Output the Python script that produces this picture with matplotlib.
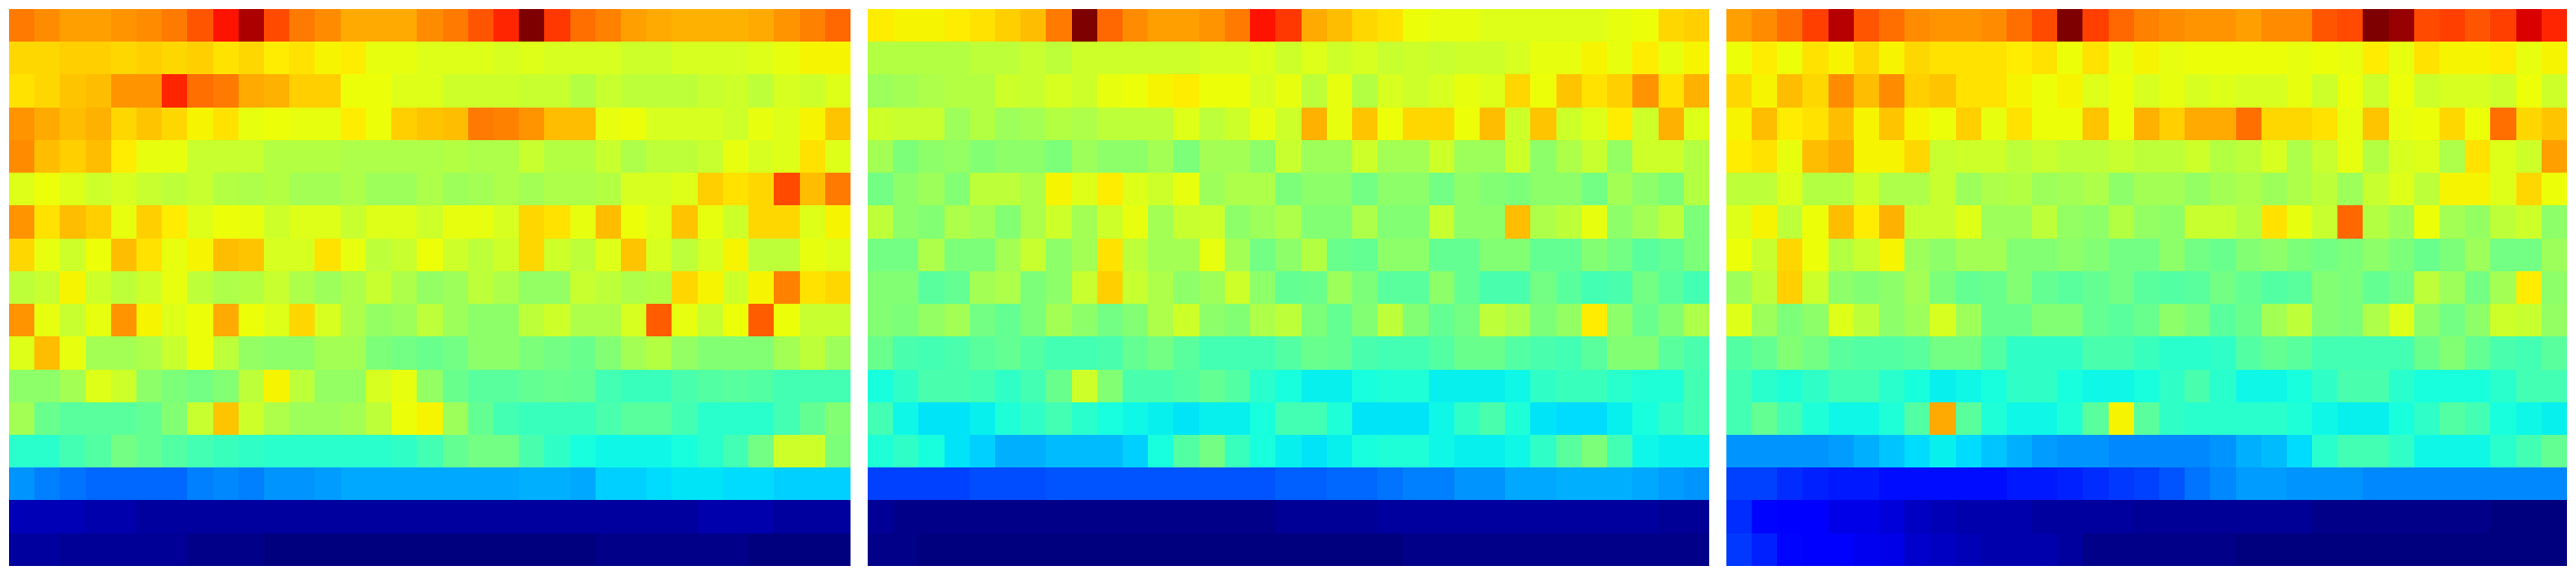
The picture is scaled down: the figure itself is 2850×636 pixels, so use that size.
#!/usr/bin/env python3

import numpy as np
import matplotlib
matplotlib.use("Agg")
import matplotlib.pyplot as plt

# values, 17 rows x 33 columns, scale 0-100
panel_a = [
    [78,76,74,74,75,76,78,82,89,96,83,78,76,73,73,73,76,78,82,87,100,85,79,77,74,73,72,72,72,73,75,77,80],
    [68,68,69,69,68,69,68,69,67,68,66,67,65,66,63,63,62,62,62,61,62,61,61,61,60,60,61,61,61,62,63,65,65],
    [67,68,70,71,75,75,87,79,78,73,72,69,69,64,64,62,62,60,60,60,59,59,57,59,58,58,58,59,60,58,61,60,62],
    [75,73,71,72,68,70,68,65,67,63,64,63,63,66,64,69,70,71,78,77,75,71,71,63,64,61,61,61,60,63,62,65,70],
    [76,71,69,71,66,63,63,59,59,59,57,57,57,56,56,56,56,57,56,56,59,57,57,59,56,58,58,59,63,61,62,67,62],
    [62,64,62,60,61,59,58,59,57,56,57,55,55,56,54,54,56,54,55,56,55,56,56,57,61,61,62,69,67,68,83,71,78],
    [75,67,71,69,63,69,66,62,64,63,60,62,62,59,62,62,60,63,63,61,68,67,63,71,64,62,70,63,60,68,68,62,65],
    [68,63,60,64,71,67,63,65,71,70,61,61,67,63,58,59,64,60,58,60,68,60,58,62,70,61,58,61,65,58,58,63,62],
    [58,59,65,60,58,60,63,58,56,57,59,56,54,56,59,56,53,54,58,56,53,53,59,58,56,57,68,65,60,65,77,67,68],
    [75,63,59,63,75,65,62,64,73,64,62,68,61,56,53,54,58,54,52,52,58,60,56,56,61,81,63,59,64,81,64,59,59],
    [62,71,63,55,55,56,59,64,58,53,52,52,55,55,50,49,48,49,52,52,50,49,48,51,55,57,53,51,51,51,55,58,54],
    [52,52,55,62,60,52,50,49,51,58,65,58,53,53,61,63,53,48,46,46,47,48,47,43,42,42,44,45,46,45,43,43,43],
    [55,48,46,46,46,47,51,59,70,60,56,54,54,55,58,64,65,54,47,43,42,42,42,44,46,46,43,40,40,40,43,47,51],
    [40,40,43,45,49,47,45,43,42,41,40,40,40,40,40,41,43,47,49,49,44,41,38,37,37,37,38,40,43,49,60,60,50],
    [27,25,24,23,23,23,23,25,26,25,27,27,28,29,29,29,29,29,29,29,30,30,29,33,33,34,35,35,34,34,33,33,33],
    [5,5,5,4,4,3,3,3,3,3,3,3,3,3,3,3,3,3,3,3,3,3,3,3,3,3,3,4,4,4,3,3,3],
    [3,3,2,2,2,2,2,1,1,1,0,0,0,0,0,0,0,0,0,0,0,0,0,1,1,1,1,1,1,0,0,0,0],
]

panel_b = [
    [66,65,65,66,67,69,71,78,100,80,76,74,74,75,78,89,85,73,71,68,67,64,63,63,62,62,62,62,62,63,64,68,69],
    [57,57,57,57,58,58,59,58,60,60,60,60,60,61,61,62,60,62,60,61,59,60,59,60,60,61,63,63,65,63,66,63,65],
    [54,55,56,57,57,60,59,61,60,63,64,65,66,64,64,61,63,58,63,57,61,60,61,63,62,68,64,70,67,69,75,67,72],
    [60,59,59,54,57,54,55,57,56,58,58,58,62,58,60,63,60,72,63,70,64,68,68,64,71,60,70,60,62,66,60,72,62],
    [55,50,52,53,51,52,52,50,54,52,52,55,50,55,55,52,59,54,54,60,55,55,60,54,54,60,52,56,59,53,60,60,57],
    [49,52,54,51,58,58,56,65,62,66,62,60,63,54,56,56,50,52,52,49,52,52,49,52,51,50,52,52,49,55,52,50,57],
    [58,52,51,56,55,51,56,60,55,60,63,55,59,60,52,54,56,51,51,56,51,51,59,52,52,71,56,58,63,52,55,58,50],
    [49,49,56,50,50,55,59,52,55,67,58,55,55,63,55,49,52,57,48,47,52,52,47,47,51,51,47,47,51,49,46,47,50],
    [51,51,46,47,55,56,50,52,59,69,59,56,52,54,60,52,47,48,54,50,46,46,52,47,44,44,49,46,43,44,49,46,43],
    [51,50,53,55,49,47,50,55,52,49,51,56,60,52,51,56,58,50,47,51,58,51,47,49,58,56,50,53,66,52,48,51,56],
    [48,44,43,44,46,47,45,43,43,44,47,49,46,43,43,43,45,48,47,44,43,43,45,48,48,45,44,43,46,51,51,46,44],
    [38,41,44,44,43,41,43,48,60,51,44,44,45,47,45,40,38,36,36,38,39,39,36,36,36,37,41,42,42,40,39,39,43],
    [43,37,35,35,36,39,41,43,40,38,37,36,35,36,36,38,43,43,39,35,35,35,37,41,44,39,35,34,34,36,38,41,43],
    [39,41,38,35,33,30,30,31,31,31,33,38,45,49,42,38,36,35,36,38,39,39,37,36,36,37,41,46,50,43,37,36,36],
    [19,19,19,19,20,20,20,21,21,21,21,21,21,21,21,21,22,22,23,23,24,25,25,27,27,29,29,30,30,30,29,28,27],
    [2,1,1,1,1,1,1,1,1,1,1,1,1,1,1,1,2,2,2,2,3,3,3,3,3,3,3,3,3,3,3,2,2],
    [1,1,0,0,0,0,0,0,0,0,0,0,0,0,0,0,0,0,0,0,0,1,1,1,1,1,1,1,1,1,1,1,1],
]

panel_c = [
    [74,76,79,84,95,82,79,76,75,75,76,79,83,100,84,80,77,76,75,75,74,76,76,82,83,100,98,83,84,82,84,92,87],
    [64,66,64,67,65,68,65,68,67,67,67,66,67,64,67,63,65,63,64,64,64,64,63,64,63,66,63,67,65,65,66,63,65],
    [68,65,71,68,76,71,76,69,70,67,67,65,64,65,62,64,61,63,61,62,61,61,63,60,64,60,64,60,61,61,60,64,60],
    [65,71,66,67,71,65,70,65,64,69,63,67,64,64,70,64,72,69,73,73,79,68,68,67,63,70,63,64,68,64,79,68,70],
    [66,67,63,71,73,65,65,68,59,60,60,58,59,58,58,59,58,58,60,57,58,61,56,59,63,57,61,62,56,67,62,60,74],
    [58,58,62,57,57,60,56,56,59,54,56,57,54,55,56,52,55,55,53,55,56,54,56,58,54,59,62,58,65,65,62,68,64],
    [62,65,58,64,71,66,72,59,59,62,54,54,58,53,52,57,53,52,59,59,57,67,63,59,80,57,54,64,55,53,58,60,52],
    [64,59,68,64,57,59,65,54,52,55,55,51,51,52,51,49,49,52,49,48,51,52,50,49,50,52,50,48,50,54,49,49,54],
    [54,58,69,60,52,51,52,55,50,47,48,51,47,46,47,49,46,45,46,49,47,45,46,51,50,47,49,58,54,49,55,66,52],
    [62,54,50,52,62,58,52,54,61,54,48,48,51,51,47,46,48,52,50,46,48,55,58,51,50,56,62,52,49,52,60,59,53],
    [45,47,51,49,46,45,45,46,49,49,45,41,41,41,44,44,42,40,40,41,45,47,46,43,43,43,43,48,51,47,44,43,46],
    [43,40,39,41,43,43,40,38,36,37,38,41,41,38,37,37,38,41,44,40,37,37,38,41,44,44,40,38,38,38,40,43,43],
    [43,47,43,39,37,37,39,45,73,46,39,37,37,39,46,65,46,41,40,40,40,40,39,37,36,36,38,41,45,43,38,37,36],
    [27,27,27,27,28,30,32,34,36,34,32,30,28,27,27,26,26,26,26,27,30,31,34,40,43,43,41,37,37,37,40,43,47],
    [19,19,17,16,15,15,14,14,14,14,14,15,15,16,17,18,19,21,24,26,28,28,27,27,27,26,26,26,26,26,26,26,26],
    [17,13,11,11,9,9,8,6,5,4,4,4,3,3,3,3,2,2,2,2,2,2,2,1,1,1,1,1,1,1,0,0,0],
    [18,16,13,11,11,10,9,7,6,5,4,4,4,3,1,1,1,1,1,1,0,0,0,0,0,0,0,0,0,0,0,0,0],
]


def main():
    fig = plt.figure(figsize=(28.5, 6.36), dpi=100)

    for i, panel in enumerate([panel_a, panel_b, panel_c]):
        left = (10 + 950 * i) / 2850
        ax = fig.add_axes([left, 10 / 636, 930 / 2850, 616 / 636])
        ax.imshow(np.array(panel), cmap="jet", vmin=0, vmax=100,
                  aspect="auto", interpolation="nearest")
        ax.axis("off")

    fig.savefig("out.png", dpi=100)


if __name__ == "__main__":
    main()
